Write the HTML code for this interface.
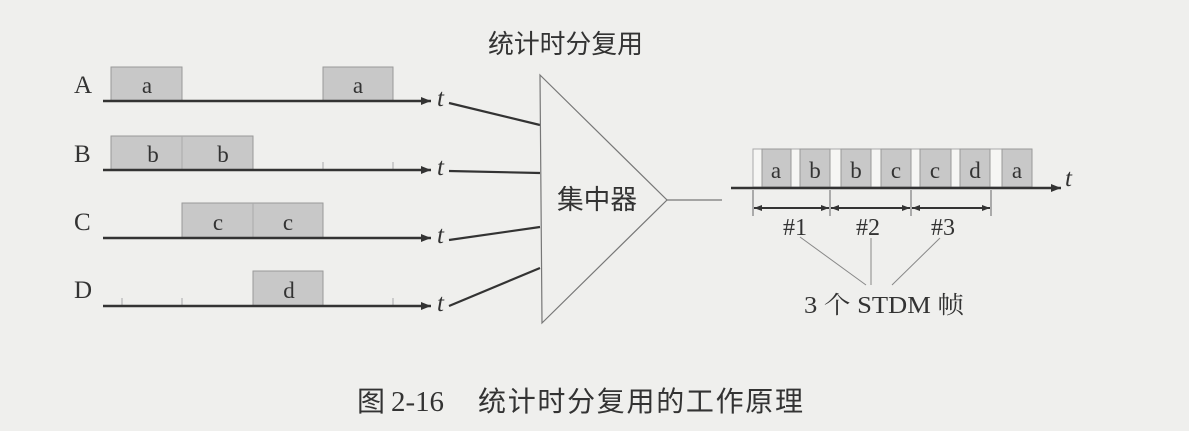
<!DOCTYPE html>
<html><head><meta charset="utf-8"><style>
html,body{margin:0;padding:0;background:#efefed;}
svg{display:block}
text{font-family:"Liberation Serif","Noto Serif CJK SC",serif;fill:#333}
.cj{font-family:"Liberation Sans","Noto Sans CJK SC",sans-serif}
</style></head><body>
<svg width="1189" height="431" viewBox="0 0 1189 431" xmlns="http://www.w3.org/2000/svg">
<defs><marker id="ar" markerWidth="10" markerHeight="8" refX="10" refY="4" orient="auto" markerUnits="userSpaceOnUse"><path d="M0,0 L10,4 L0,8 Z" fill="#333"/></marker>
<marker id="ar2" markerWidth="8" markerHeight="6" refX="8" refY="3" orient="auto-start-reverse" markerUnits="userSpaceOnUse"><path d="M0,0 L8,3 L0,6 Z" fill="#333"/></marker></defs>
<rect width="1189" height="431" fill="#efefed"/>
<g fill="#c8c8c8" stroke="#999" stroke-width="1">
<rect x="111" y="67" width="71" height="34"/><rect x="323" y="67" width="70" height="34"/>
<rect x="111" y="136" width="142" height="34"/>
<rect x="182" y="203" width="141" height="35"/>
<rect x="253" y="271" width="70" height="35"/>
</g>
<g stroke="#aaa" stroke-width="1"><line x1="182" y1="136" x2="182" y2="170"/><line x1="253" y1="203" x2="253" y2="238"/>
<line x1="122" y1="298" x2="122" y2="306"/><line x1="182" y1="298" x2="182" y2="306"/><line x1="393" y1="298" x2="393" y2="306"/>
<line x1="323" y1="162" x2="323" y2="170"/><line x1="393" y1="162" x2="393" y2="170"/></g>
<g stroke="#333" stroke-width="2.5" marker-end="url(#ar)">
<line x1="103" y1="101" x2="431" y2="101"/><line x1="103" y1="170" x2="431" y2="170"/>
<line x1="103" y1="238" x2="431" y2="238"/><line x1="103" y1="306" x2="431" y2="306"/></g>
<g font-size="25"><text x="74" y="93">A</text><text x="74" y="162">B</text><text x="74" y="230">C</text><text x="74" y="298">D</text></g>
<g font-size="23" text-anchor="middle"><text x="147" y="93">a</text><text x="358" y="93">a</text><text x="153" y="162">b</text><text x="223" y="162">b</text>
<text x="218" y="230">c</text><text x="288" y="230">c</text><text x="289" y="298">d</text></g>
<g font-size="25" font-style="italic"><text x="437" y="106">t</text><text x="437" y="175">t</text><text x="437" y="243">t</text><text x="437" y="311">t</text></g>
<g stroke="#333" stroke-width="2.2"><line x1="449" y1="103" x2="540" y2="125"/><line x1="449" y1="171" x2="540" y2="173"/><line x1="449" y1="240" x2="540" y2="227"/><line x1="449" y1="306" x2="540" y2="268"/></g>
<path d="M540,75 L667,200 L542,323 Z" fill="none" stroke="#777" stroke-width="1.2"/>
<line x1="667" y1="200" x2="722" y2="200" stroke="#777" stroke-width="1.2"/>
<text class="cj" x="488" y="53" font-size="26" textLength="155" lengthAdjust="spacingAndGlyphs">统计时分复用</text>
<text class="cj" x="557" y="209" font-size="27" textLength="80" lengthAdjust="spacingAndGlyphs">集中器</text>
<rect x="753" y="149" width="279" height="38" fill="#f6f6f4" stroke="#aaa"/>
<g fill="#c8c8c8" stroke="#999"><rect x="762" y="149" width="29" height="38"/><rect x="800" y="149" width="30" height="38"/><rect x="841" y="149" width="30" height="38"/><rect x="881" y="149" width="30" height="38"/><rect x="920" y="149" width="31" height="38"/><rect x="960" y="149" width="30" height="38"/><rect x="1002" y="149" width="30" height="38"/></g>
<g font-size="23" text-anchor="middle"><text x="776" y="178">a</text><text x="815" y="178">b</text><text x="856" y="178">b</text><text x="896" y="178">c</text><text x="935" y="178">c</text><text x="975" y="178">d</text><text x="1017" y="178">a</text></g>
<line x1="731" y1="188" x2="1061" y2="188" stroke="#333" stroke-width="2.5" marker-end="url(#ar)"/>
<text x="1065" y="186" font-size="25" font-style="italic">t</text>
<g stroke="#666" stroke-width="1"><line x1="753" y1="190" x2="753" y2="216"/><line x1="830" y1="190" x2="830" y2="216"/><line x1="911" y1="190" x2="911" y2="216"/><line x1="991" y1="190" x2="991" y2="216"/></g>
<g stroke="#333" stroke-width="2" marker-start="url(#ar2)" marker-end="url(#ar2)"><line x1="754" y1="208" x2="829" y2="208"/><line x1="831" y1="208" x2="910" y2="208"/><line x1="912" y1="208" x2="990" y2="208"/></g>
<g font-size="24" text-anchor="middle"><text x="795" y="235">#1</text><text x="868" y="235">#2</text><text x="943" y="235">#3</text></g>
<g stroke="#888" stroke-width="1"><line x1="800" y1="237" x2="866" y2="285"/><line x1="871" y1="238" x2="871" y2="285"/><line x1="940" y1="238" x2="892" y2="285"/></g>
<text x="804" y="313" font-size="24" textLength="160" lengthAdjust="spacingAndGlyphs">3 个 STDM 帧</text>
<text class="cj" x="357" y="411" font-size="28" textLength="28" lengthAdjust="spacingAndGlyphs">图</text>
<text x="391" y="411" font-size="28" textLength="53" lengthAdjust="spacingAndGlyphs">2-16</text>
<text class="cj" x="478" y="411" font-size="28" textLength="325" lengthAdjust="spacing">统计时分复用的工作原理</text>
</svg>
</body></html>
